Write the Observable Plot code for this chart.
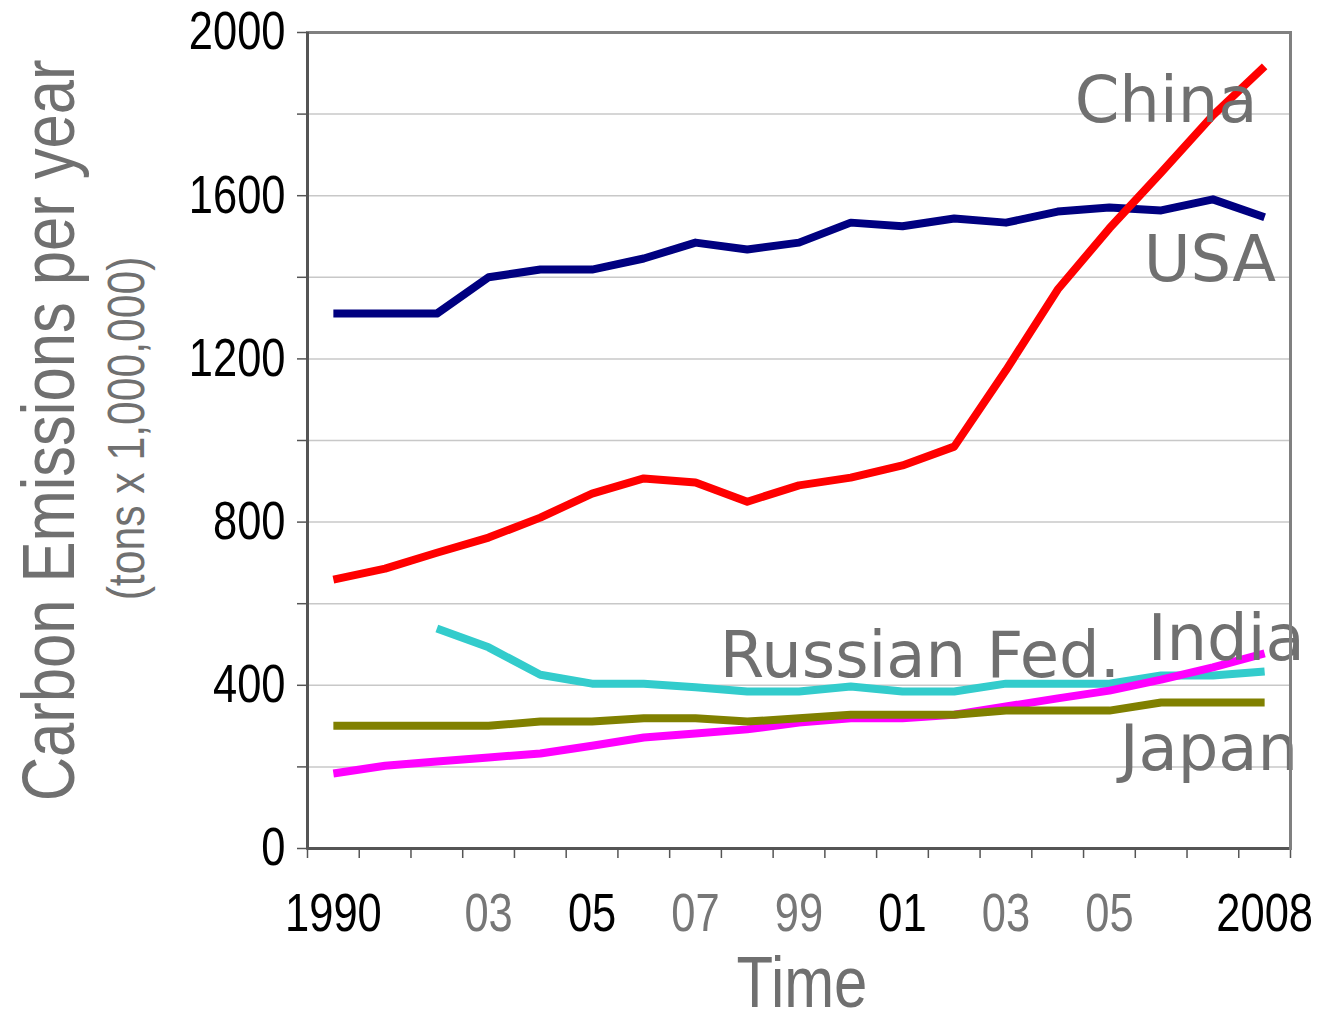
<!DOCTYPE html>
<html>
<head>
<meta charset="utf-8">
<script src="https://cdn.jsdelivr.net/npm/d3@7"></script>
<script src="https://cdn.jsdelivr.net/npm/@observablehq/plot@0.6"></script>
<style>
  html, body { margin: 0; padding: 0; background: #fff; }
  #chart svg { display: block; }
</style>
</head>
<body>
<div id="chart"></div>
<script>
// ---- Data ----
const years = [1990,1991,1992,1993,1994,1995,1996,1997,1998,1999,2000,2001,2002,2003,2004,2005,2006,2007,2008];

const usa    = [1311,1311,1311,1400,1419,1419,1446,1485,1468,1485,1534,1525,1544,1534,1561,1571,1564,1591,1547];
const china  = [659,686,725,762,811,870,907,897,850,890,909,939,985,1172,1370,1520,1657,1797,1917];
const russia = [null,null,539,493,426,404,404,395,385,385,397,385,385,404,404,404,424,424,434];
const india  = [184,203,213,223,233,252,272,282,292,309,319,319,328,348,368,387,414,444,478];
const japan  = [301,301,301,301,311,311,319,319,311,319,328,328,328,338,338,338,358,358,358];

const seriesNames  = ["USA", "China", "Russian Fed.", "India", "Japan"];
const seriesValues = [usa, china, russia, india, japan];
const seriesColors = ["#000080", "#ff0000", "#33cccc", "#ff00ff", "#808000"];

const yTickValues = [0, 400, 800, 1200, 1600, 2000];
const yMinorTicks = [0, 200, 400, 600, 800, 1000, 1200, 1400, 1600, 1800, 2000];
const gridValues  = [200, 400, 600, 800, 1000, 1200, 1400, 1600, 1800];

const xLabelYears = [1990, 1993, 1995, 1997, 1999, 2001, 2003, 2005, 2008];
const xLabelTexts = ["1990", "03", "05", "07", "99", "01", "03", "05", "2008"];
const xLabelDark  = [true, false, true, false, false, true, false, false, true];

// ---- Build table ----
const rows = [];
seriesNames.forEach((name, s) => {
  years.forEach((yr, i) => rows.push({name, year: yr, value: seriesValues[s][i]}));
});
// draw order bottom -> top
const drawOrder = ["USA", "China", "Russian Fed.", "India", "Japan"];

const lastPoints = seriesNames.map((name, s) => ({name, year: years[years.length - 1], value: seriesValues[s][years.length - 1]}));
// label offsets (pixels) from each series' last point
const labelOffsets = {
  "China":        {dx: -190, dy: 56},
  "USA":          {dx: -121, dy: 64},
  "Russian Fed.": {dx: -545, dy: 6},
  "India":        {dx: -117, dy: 7},
  "Japan":        {dx: -145, dy: 68}
};

const boundaries = years.map(y => y - 0.5).concat([years[years.length - 1] + 0.5]);
const xDomain = [boundaries[0], boundaries[boundaries.length - 1]];
const xLabels = xLabelYears.map((y, i) => ({year: y, text: xLabelTexts[i], dark: xLabelDark[i]}));

const narrow = "'Liberation Sans Narrow', 'Liberation Sans', Arial, sans-serif";
const labelFont = "'DejaVu Sans', Verdana, sans-serif";
const gray = "#707070";

const marks = [
  Plot.gridY(gridValues, {stroke: "#c8c8c8", strokeOpacity: 1, strokeWidth: 1.5}),
  Plot.frame({stroke: "#808080", strokeWidth: 3}),
  ...drawOrder.map(name => Plot.line(rows.filter(r => r.name === name), {
    x: "year", y: "value", stroke: "name",
    strokeWidth: 8, strokeLinejoin: "round", strokeLinecap: "butt"
  })),
  Plot.ruleX([xDomain[0]], {stroke: "#555", strokeWidth: 3}),
  Plot.ruleY([0], {stroke: "#555", strokeWidth: 3}),
  // y minor ticks
  Plot.axisY({ticks: yMinorTicks, tickSize: 10, tickFormat: () => "", label: null, stroke: "#555", strokeWidth: 1.5}),
  // y labels
  Plot.axisY({ticks: yTickValues, tickSize: 0, tickPadding: 22, label: null,
    fontSize: 53, fontFamily: narrow, fill: "#000", tickFormat: d => String(d)}),
  // x tick marks at band boundaries
  Plot.axisX({ticks: boundaries, tickSize: 10, tickFormat: () => "", label: null, stroke: "#555", strokeWidth: 1.5}),
  // x labels
  Plot.text(xLabels, {
    x: "year", frameAnchor: "bottom", text: "text", dy: 82, lineAnchor: "bottom",
    fontSize: 53, fontFamily: narrow, fill: d => d.dark ? "#000" : "#777"
  }),
  // axis titles
  Plot.text(["Time"], {
    frameAnchor: "bottom", text: d => d, dx: 3, dy: 158, lineAnchor: "bottom", textAnchor: "middle",
    fontSize: 73, fontFamily: narrow, fill: gray
  }),
  Plot.text(["Carbon Emissions per year"], {
    frameAnchor: "left", text: d => d, rotate: -90, dx: -258, dy: -10, lineAnchor: "middle", textAnchor: "middle",
    fontSize: 75, fontFamily: narrow, fill: gray
  }),
  Plot.text(["(tons x 1,000,000)"], {
    frameAnchor: "left", text: d => d, rotate: -90, dx: -180, dy: -12, lineAnchor: "middle", textAnchor: "middle",
    fontSize: 52, fontFamily: narrow, fill: gray
  }),
  // series labels
  ...lastPoints.map(p => Plot.text([p], {
    x: "year", y: "value", text: "name", textAnchor: "start", lineAnchor: "bottom",
    dx: labelOffsets[p.name].dx, dy: labelOffsets[p.name].dy,
    fontSize: 64, fontFamily: labelFont, fill: gray
  })),
  Plot.frame({anchor: "right", stroke: "#808080", strokeWidth: 3})
];

const chart = Plot.plot({
  width: 1323,
  height: 1012,
  marginLeft: 307,
  marginRight: 33,
  marginTop: 32,
  marginBottom: 164,
  style: {background: "#fff", fontFamily: narrow, overflow: "visible"},
  x: {type: "linear", domain: xDomain},
  y: {domain: [0, 2000]},
  color: {domain: seriesNames, range: seriesColors},
  marks
});
document.getElementById("chart").appendChild(chart);

// Emulate a narrow (condensed) face: compress the Liberation Sans texts horizontally
const condense = 0.82;
chart.querySelectorAll("text").forEach(t => {
  const ff = getComputedStyle(t).fontFamily || "";
  if (!ff.includes("Narrow")) return;
  const len = t.getComputedTextLength();
  if (!len) return;
  t.setAttribute("textLength", (len * condense).toFixed(2));
  t.setAttribute("lengthAdjust", "spacingAndGlyphs");
});
</script>
</body>
</html>
